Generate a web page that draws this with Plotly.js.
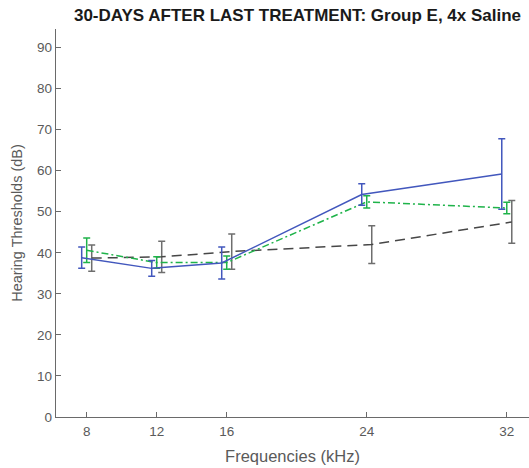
<!DOCTYPE html>
<html>
<head>
<meta charset="utf-8">
<script src="https://cdn.plot.ly/plotly-3.0.1.min.js"></script>
<style>html,body{margin:0;padding:0;background:#fff;}#chart{width:529px;height:468px;}</style>
</head>
<body>
<div id="chart"></div>
<script>
// Frequencies (kHz)
const frequencies = [8, 12, 16, 24, 32];
const xTickLabels = ['8', '12', '16', '24', '32'];
const yTickValues = [0, 10, 20, 30, 40, 50, 60, 70, 80, 90];

// Series 1: blue solid
const blueMean = [38.8, 36.2, 37.5, 54.2, 59.2];
const blueErr  = [2.6, 1.9, 3.9, 2.6, 8.6];
// Series 2: green dash-dot
const greenMean = [40.6, 37.6, 37.6, 52.4, 50.9];
const greenErr  = [3.0, 1.4, 1.6, 1.5, 1.4];
// Series 3: gray dashed
const grayMean = [38.7, 39.0, 40.3, 42.0, 47.5];
const grayErr  = [3.2, 3.8, 4.3, 4.6, 5.2];

const shift = 0.286; // horizontal jitter between series (data units)

function trace(mean, err, off, color, barColor, dash) {
  return {
    type: 'scatter', mode: 'lines',
    x: frequencies.map(f => f + off), y: mean,
    line: {color: color, width: 1.5, dash: dash},
    error_y: {type: 'data', array: err, visible: true, color: barColor, thickness: 1.5, width: 3.5},
    hoverinfo: 'skip', showlegend: false
  };
}

const data = [
  trace(grayMean, grayErr, shift, '#474747', '#6e6e6e', '10px,6px'),
  trace(greenMean, greenErr, 0, '#1fb34a', '#1fb34a', '7px,3px,2px,3px'),
  trace(blueMean, blueErr, -shift, '#4257bd', '#4257bd', 'solid')
];

const FONT = 'Liberation Sans, Arial, sans-serif';
const axisFont = {family: FONT, size: 13.5, color: '#5a5a5a'};

const layout = {
  width: 529, height: 468,
  margin: {l: 56, r: 0, t: 29, b: 51.3},
  paper_bgcolor: '#ffffff', plot_bgcolor: '#ffffff',
  title: {
    text: '<b>30-DAYS AFTER LAST TREATMENT: Group E, 4x Saline</b>',
    font: {family: FONT, size: 17, color: '#1a1a1a'},
    x: 0.5624, xref: 'container', xanchor: 'center',
    y: 0.968, yref: 'container', yanchor: 'middle'
  },
  xaxis: {
    range: [6.246, 33.27],
    tickvals: frequencies, ticktext: xTickLabels,
    ticks: 'inside', ticklen: 5, tickwidth: 1, tickcolor: '#6a6a6a',
    showline: true, linecolor: '#6a6a6a', linewidth: 1.2,
    showgrid: false, zeroline: false, mirror: false,
    tickfont: axisFont, ticklabelstandoff: 2,
    title: {text: 'Frequencies (kHz)', font: {family: FONT, size: 16.5, color: '#5a5a5a'}, standoff: 12}
  },
  yaxis: {
    range: [0, 94.5],
    tickvals: yTickValues,
    ticks: 'inside', ticklen: 5, tickwidth: 1, tickcolor: '#6a6a6a',
    showline: true, linecolor: '#6a6a6a', linewidth: 1.2,
    showgrid: false, zeroline: false, mirror: false,
    tickfont: axisFont,
    title: {text: 'Hearing Thresholds (dB)', font: {family: FONT, size: 14.5, color: '#5a5a5a'}, standoff: 11}
  }
};

Plotly.newPlot('chart', data, layout, {displayModeBar: false, staticPlot: true});
</script>
</body>
</html>
